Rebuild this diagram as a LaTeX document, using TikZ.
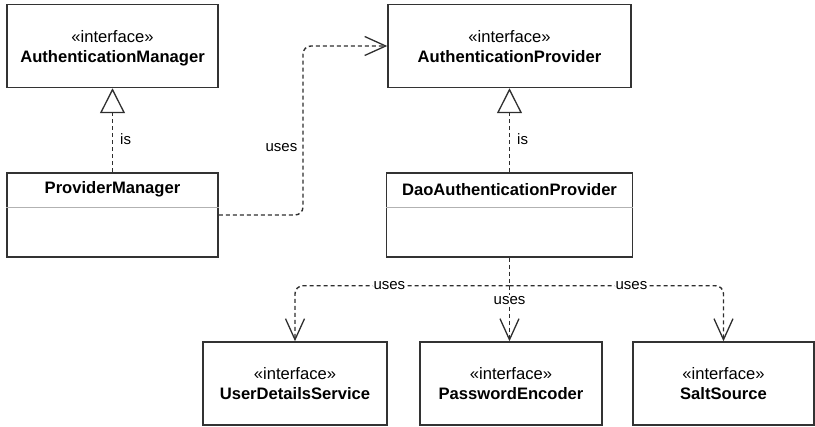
\documentclass[tikz,border=0pt]{standalone}
\usepackage{fontspec}
\setmainfont{Liberation Sans}
\usetikzlibrary{arrows.meta,positioning,calc}

\begin{document}
\begin{tikzpicture}[x=1pt,y=-1pt,
  thick,
  iface/.style={rectangle,draw=black!80,line width=1.5pt,align=center,inner sep=0pt,
    font=\fontsize{16.6}{20}\selectfont,minimum height=83pt,text depth=0pt},
  classbox/.style={rectangle,draw=black!80,line width=1.5pt,inner sep=0pt,minimum height=84pt},
  classname/.style={font=\fontsize{16.6}{20}\selectfont\bfseries,minimum height=34pt,inner sep=0pt},
  divider/.style={draw=black!30,line width=1pt},
  realize/.style={draw=black!82,line width=1.4pt,dash pattern=on 4pt off 3pt,
    -{Triangle[open,length=25pt,width=25pt,line width=1.3pt]}},
  uses/.style={draw=black!82,line width=1.4pt,dash pattern=on 4pt off 3pt,rounded corners=8pt,
    -{Straight Barb[length=21pt,width=19pt,line width=1.3pt]}},
  lbl/.style={font=\fontsize{15}{18}\selectfont,inner sep=1pt}]

  \useasboundingbox (0,0) rectangle (815,427);

  % top row
  \node[iface,minimum width=211pt] (am) at (112.5,46) {«interface»\\\textbf{AuthenticationManager}};
  \node[iface,minimum width=243pt] (ap) at (509.5,46) {«interface»\\\textbf{AuthenticationProvider}};

  % classes
  \node[classbox,minimum width=211pt] (pm) at (112.5,215) {};
  \node[classname,below=0pt of pm.north] (pmname) {ProviderManager};
  \draw[divider] (pmname.south -| pm.west) -- (pmname.south -| pm.east);

  \node[classbox,minimum width=246pt] (dao) at (509.5,215) {};
  \node[classname,below=0pt of dao.north] (daoname) {DaoAuthenticationProvider};
  \draw[divider] (daoname.south -| dao.west) -- (daoname.south -| dao.east);

  % bottom row
  \node[iface,minimum width=184pt] (uds) at (295,383.5) {«interface»\\\textbf{UserDetailsService}};
  \node[iface,minimum width=182pt] (pe) at (511,383.5) {«interface»\\\textbf{PasswordEncoder}};
  \node[iface,minimum width=181pt] (ss) at (723.5,383.5) {«interface»\\\textbf{SaltSource}};

  % is
  \path
   (pm.north) edge[realize] node[lbl,right,pos=.4,xshift=6pt]{is} (am.south)
   (dao.north) edge[realize] node[lbl,right,pos=.4,xshift=6pt]{is} (ap.south);

  % uses
  \coordinate (bend) at ($(pm.east)!.5!(ap.west)$);
  \draw[uses] (pm.east) -- (pm.east -| bend)
    -- node[lbl,left,pos=.4,xshift=-4pt]{uses} (bend |- ap.west) -- (ap.west);

  \coordinate (fork) at ($(dao.south)+(0,28)$);
  \draw[uses,-] (dao.south) -- (fork);
  \draw[uses] (fork) -| node[lbl,fill=white,pos=.28]{uses} (uds.north);
  \draw[uses] (fork) -| node[lbl,fill=white,pos=.285]{uses} (ss.north);
  \draw[uses] (fork) -- node[lbl,fill=white,pos=.26]{uses} (fork |- pe.north);
\end{tikzpicture}
\end{document}
